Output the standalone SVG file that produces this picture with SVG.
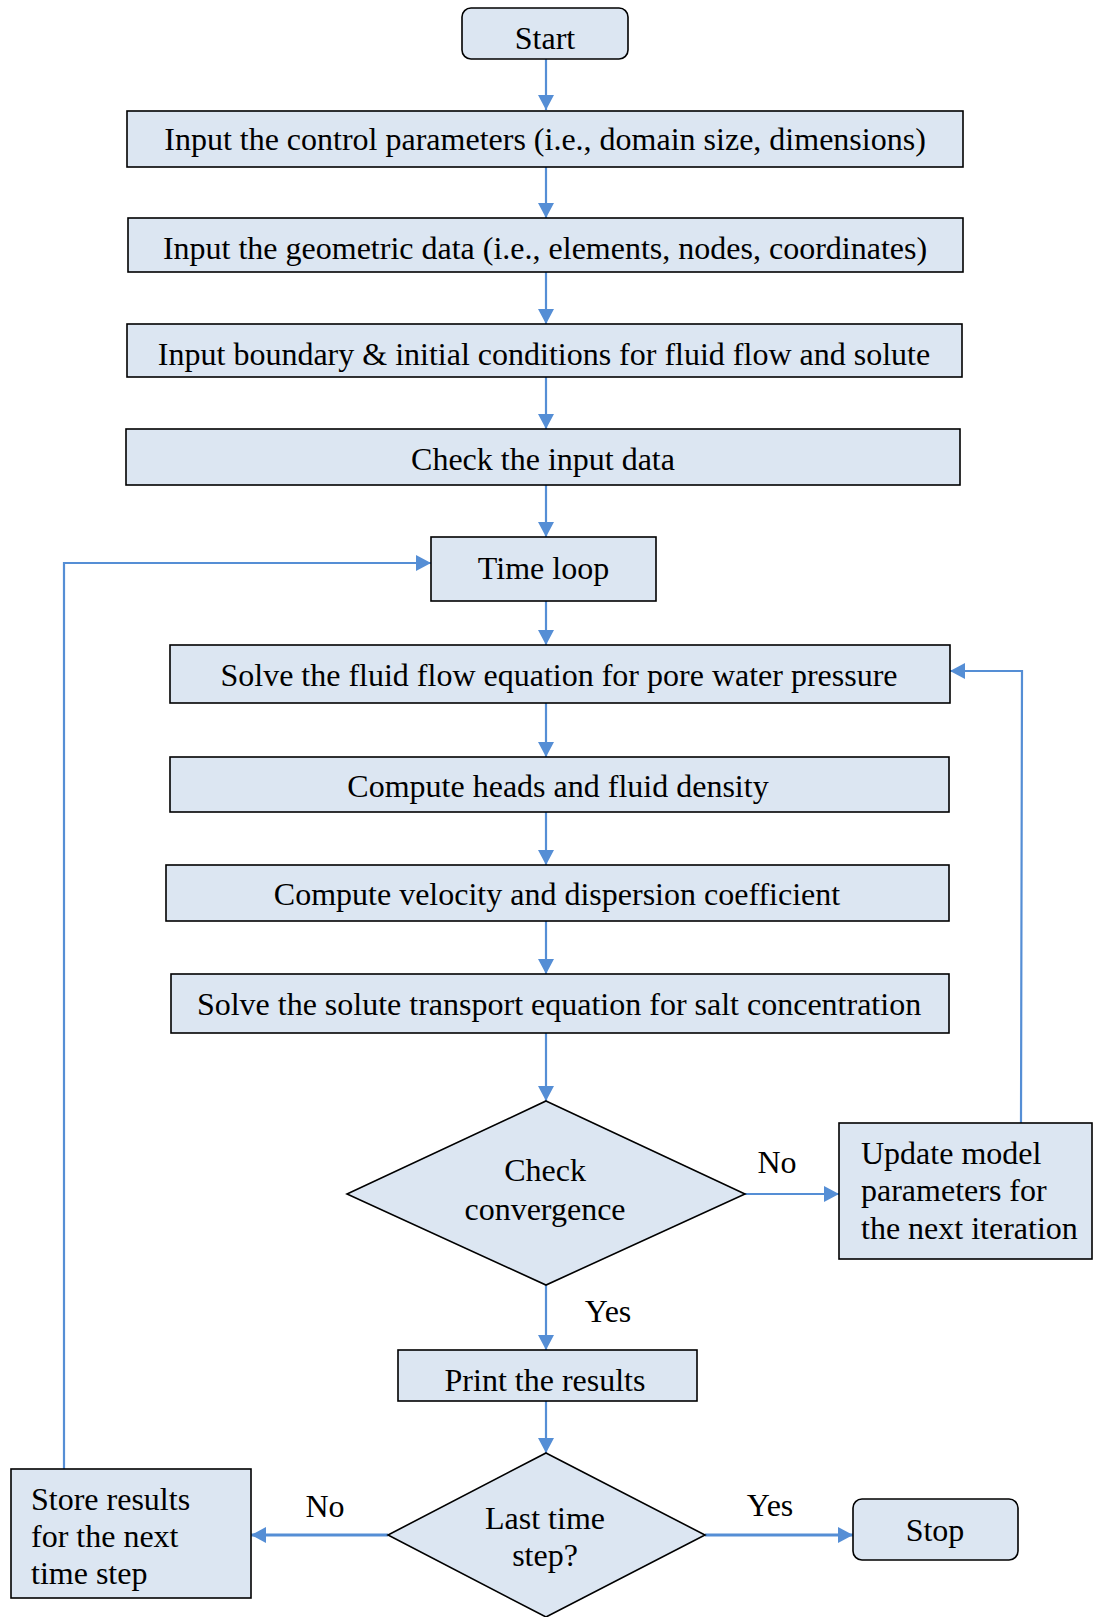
<svg xmlns="http://www.w3.org/2000/svg" width="1093" height="1617" viewBox="0 0 1093 1617">
  <style>
    .box { fill: #dce6f2; stroke: #000; stroke-width: 1.6; }
    .t { font-family: "Liberation Serif", "DejaVu Serif", serif; font-size: 32px; fill: #000; }
    .c { text-anchor: middle; }
    .link { fill: none; stroke: #558ed5; stroke-width: 2.2; }
    .thick { stroke-width: 3; }
  </style>
  <defs>
    <marker id="arrow" markerUnits="userSpaceOnUse" markerWidth="16" markerHeight="16" refX="15" refY="8" orient="auto">
      <path d="M0,0 L15,8 L0,16 Z" fill="#558ed5"/>
    </marker>
  </defs>
  <rect width="1093" height="1617" fill="#fff"/>

  <!-- connectors -->
  <g id="connectors">
    <line class="link" x1="546" y1="59" x2="546" y2="110" marker-end="url(#arrow)"/>
    <line class="link" x1="546" y1="167" x2="546" y2="218" marker-end="url(#arrow)"/>
    <line class="link" x1="546" y1="272" x2="546" y2="324" marker-end="url(#arrow)"/>
    <line class="link" x1="546" y1="377" x2="546" y2="429" marker-end="url(#arrow)"/>
    <line class="link" x1="546" y1="485" x2="546" y2="537" marker-end="url(#arrow)"/>
    <line class="link" x1="546" y1="601" x2="546" y2="645" marker-end="url(#arrow)"/>
    <line class="link" x1="546" y1="703" x2="546" y2="757" marker-end="url(#arrow)"/>
    <line class="link" x1="546" y1="812" x2="546" y2="865" marker-end="url(#arrow)"/>
    <line class="link" x1="546" y1="921" x2="546" y2="974" marker-end="url(#arrow)"/>
    <line class="link" x1="546" y1="1033" x2="546" y2="1101" marker-end="url(#arrow)"/>
    <line class="link" x1="546" y1="1285" x2="546" y2="1350" marker-end="url(#arrow)"/>
    <line class="link" x1="546" y1="1401" x2="546" y2="1453" marker-end="url(#arrow)"/>
    <!-- not converged: update and iterate -->
    <line class="link" x1="745" y1="1194" x2="839" y2="1194" marker-end="url(#arrow)"/>
    <polyline class="link" points="1021,1123 1022,671 950,671" marker-end="url(#arrow)"/>
    <!-- last time step decision -->
    <line class="link thick" x1="705" y1="1535" x2="853" y2="1535" marker-end="url(#arrow)"/>
    <line class="link thick" x1="388" y1="1535" x2="251" y2="1535" marker-end="url(#arrow)"/>
    <polyline class="link" points="64,1469 64,563 431,563" marker-end="url(#arrow)"/>
    <!-- branch labels -->
    <text class="t c" x="777" y="1173">No</text>
    <text class="t c" x="608" y="1322">Yes</text>
    <text class="t c" x="770" y="1516">Yes</text>
    <text class="t c" x="325" y="1517">No</text>
  </g>

  <g id="start">
    <rect class="box" x="462" y="8" width="166" height="51" rx="9"/>
    <text class="t c" x="545" y="49">Start</text>
  </g>
  <g id="control-params">
    <rect class="box" x="127" y="111" width="836" height="56"/>
    <text class="t c" x="545" y="150">Input the control parameters (i.e., domain size, dimensions)</text>
  </g>
  <g id="geometric-data">
    <rect class="box" x="128" y="218" width="835" height="54"/>
    <text class="t c" x="545" y="259">Input the geometric data (i.e., elements, nodes, coordinates)</text>
  </g>
  <g id="boundary-conditions">
    <rect class="box" x="127" y="324" width="835" height="53"/>
    <text class="t c" x="544" y="365">Input boundary &amp; initial conditions for fluid flow and solute</text>
  </g>
  <g id="check-input">
    <rect class="box" x="126" y="429" width="834" height="56"/>
    <text class="t c" x="543" y="470">Check the input data</text>
  </g>
  <g id="time-loop">
    <rect class="box" x="431" y="537" width="225" height="64"/>
    <text class="t c" x="543.5" y="579">Time loop</text>
  </g>
  <g id="solve-flow">
    <rect class="box" x="170" y="645" width="780" height="58"/>
    <text class="t c" x="559" y="686">Solve the fluid flow equation for pore water pressure</text>
  </g>
  <g id="heads-density">
    <rect class="box" x="170" y="757" width="779" height="55"/>
    <text class="t c" x="558" y="797">Compute heads and fluid density</text>
  </g>
  <g id="velocity-dispersion">
    <rect class="box" x="166" y="865" width="783" height="56"/>
    <text class="t c" x="557" y="905">Compute velocity and dispersion coefficient</text>
  </g>
  <g id="solve-transport">
    <rect class="box" x="171" y="974" width="778" height="59"/>
    <text class="t c" x="559" y="1015">Solve the solute transport equation for salt concentration</text>
  </g>
  <g id="check-convergence">
    <polygon class="box" points="546,1101 745,1194 546,1285 347,1194" stroke-width="1.2"/>
    <text class="t c" x="545" y="1181">Check</text>
    <text class="t c" x="545" y="1220">convergence</text>
  </g>
  <g id="update-params">
    <rect class="box" x="839" y="1123" width="253" height="136"/>
    <text class="t" x="861" y="1164">Update model</text>
    <text class="t" x="861" y="1201">parameters for</text>
    <text class="t" x="861" y="1239">the next iteration</text>
  </g>
  <g id="print-results">
    <rect class="box" x="398" y="1350" width="299" height="51"/>
    <text class="t c" x="545" y="1391">Print the results</text>
  </g>
  <g id="last-step">
    <polygon class="box" points="546,1453 705,1535 546,1617 388,1535" stroke-width="1.2"/>
    <text class="t c" x="545" y="1529">Last time</text>
    <text class="t c" x="545" y="1566">step?</text>
  </g>
  <g id="store-results">
    <rect class="box" x="11" y="1469" width="240" height="129"/>
    <text class="t" x="31" y="1510">Store results</text>
    <text class="t" x="31" y="1547">for the next</text>
    <text class="t" x="31" y="1584">time step</text>
  </g>
  <g id="stop">
    <rect class="box" x="853" y="1499" width="165" height="61" rx="9"/>
    <text class="t c" x="935" y="1541">Stop</text>
  </g>
</svg>
